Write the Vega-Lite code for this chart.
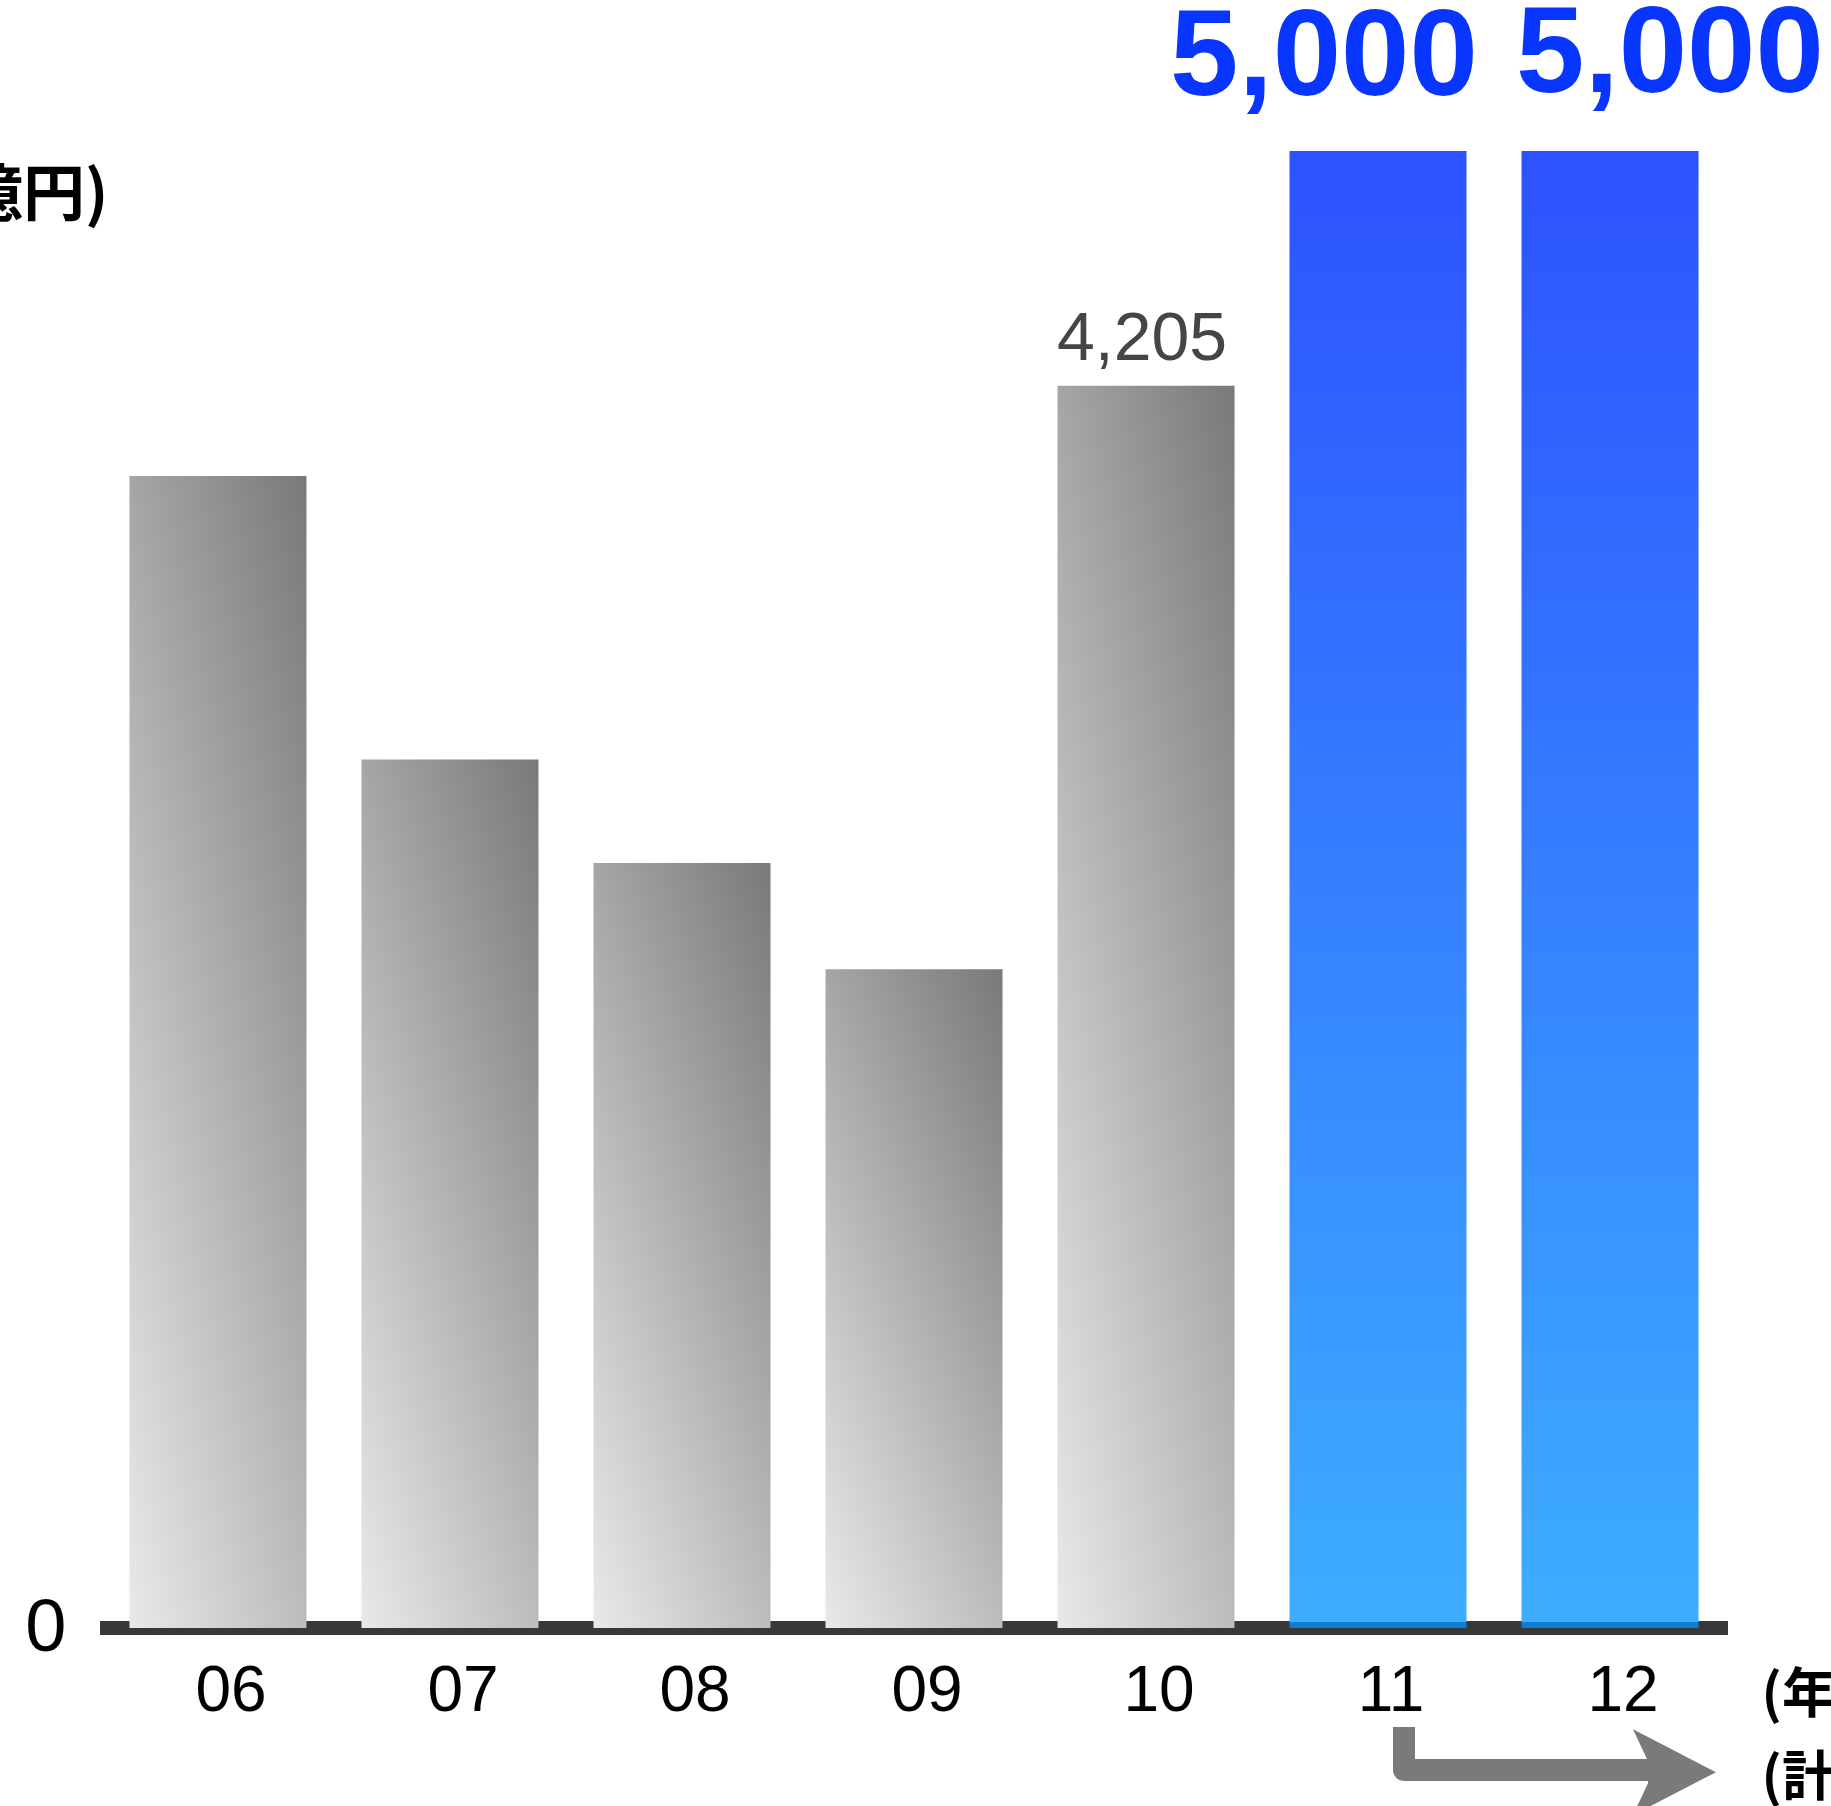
{
  "$schema": "https://vega.github.io/schema/vega-lite/v6.json",
  "width": 1628,
  "height": 1477,
  "autosize": {"type": "none"},
  "padding": {"left": 100, "top": 151, "right": 103, "bottom": 178},
  "background": "white",
  "config": {"view": {"stroke": null}, "axis": {"grid": false}},
  "datasets": {
    "sales": [
      {"year": "06", "value": 3900, "type": "実績"},
      {"year": "07", "value": 2940, "type": "実績"},
      {"year": "08", "value": 2590, "type": "実績"},
      {"year": "09", "value": 2230, "type": "実績"},
      {"year": "10", "value": 4205, "type": "実績"},
      {"year": "11", "value": 5000, "type": "計画"},
      {"year": "12", "value": 5000, "type": "計画"}
    ],
    "arrow": [
      {"step": 1, "k": 11.112, "v": -335},
      {"step": 2, "k": 11.112, "v": -481},
      {"step": 3, "k": 12.172, "v": -481}
    ],
    "head": [
      {"k": 12.278, "v": -488}
    ]
  },
  "encoding": {
    "y": {
      "type": "quantitative",
      "scale": {"domain": [0, 5000], "nice": false, "zero": false},
      "axis": {
        "values": [0],
        "domain": false,
        "ticks": false,
        "tickSize": 0,
        "grid": false,
        "labelFont": "Liberation Sans",
        "labelFontSize": 74,
        "labelColor": "#000000",
        "labelPadding": 34,
        "title": "(億円)",
        "titleAngle": 0,
        "titleAlign": "right",
        "titleBaseline": "middle",
        "titleX": 8,
        "titleY": 45,
        "titleFont": "Noto Sans CJK JP",
        "titleFontSize": 62,
        "titleFontWeight": "bold",
        "titleColor": "#000000"
      }
    }
  },
  "layer": [
    {
      "data": {"name": "sales"},
      "encoding": {
        "x": {
          "field": "year",
          "type": "ordinal",
          "sort": ["06", "07", "08", "09", "10", "11", "12"],
          "scale": {"domain": ["06", "07", "08", "09", "10", "11", "12"], "paddingInner": 0.237, "paddingOuter": 0.127},
          "axis": {
            "domain": false,
            "ticks": false,
            "tickSize": 0,
            "grid": false,
            "labelAngle": 0,
            "labelFont": "Liberation Sans",
            "labelFontSize": 64,
            "labelColor": "#000000",
            "labelBaseline": "alphabetic",
            "labelPadding": 82,
            "labelOffset": 13,
            "title": ["(年)", "(計画)"],
            "titleFont": "Noto Sans CJK JP",
            "titleFontSize": 54,
            "titleFontWeight": "bold",
            "titleColor": "#000000",
            "titleAlign": "left",
            "titleAnchor": "start",
            "titleBaseline": "alphabetic",
            "titleLineHeight": 83,
            "titleX": 1661,
            "titleY": 84,
            "titleAngle": 0
          }
        }
      },
      "layer": [
        {
          "mark": {"type": "rule", "color": "#383838", "strokeWidth": 14},
          "encoding": {
            "x": null,
            "y": {"datum": 0, "type": "quantitative"}
          }
        },
        {
          "transform": [{"filter": "datum.type === '実績'"}],
          "mark": {
            "type": "bar",
            "color": {
              "gradient": "linear",
              "x1": 0, "y1": 1, "x2": 0.774, "y2": -0.152,
              "stops": [
                {"offset": 0, "color": "#e9e9e9"},
                {"offset": 1, "color": "#797979"}
              ]
            }
          },
          "encoding": {
            "y": {"field": "value", "type": "quantitative"}
          }
        },
        {
          "transform": [{"filter": "datum.type === '計画'"}],
          "mark": {
            "type": "bar",
            "color": {
              "gradient": "linear",
              "x1": 0, "y1": 0, "x2": 0, "y2": 1,
              "stops": [
                {"offset": 0, "color": "#2d52ff"},
                {"offset": 0.9959, "color": "#3dadff"},
                {"offset": 0.9959, "color": "#0d7ed0"},
                {"offset": 1, "color": "#0d7ed0"}
              ]
            }
          },
          "encoding": {
            "y": {"field": "value", "type": "quantitative"}
          }
        },
        {
          "transform": [{"filter": "datum.year === '10'"}],
          "mark": {"type": "text", "font": "Liberation Sans", "fontSize": 68, "color": "#454545", "baseline": "alphabetic", "align": "center", "dy": -26, "dx": -4},
          "encoding": {
            "y": {"field": "value", "type": "quantitative"},
            "text": {"field": "value", "type": "quantitative", "format": ","}
          }
        },
        {
          "transform": [{"filter": "datum.year === '11'"}],
          "mark": {"type": "text", "font": "Liberation Sans", "fontWeight": "bold", "fontSize": 123, "color": "#0836ff", "baseline": "alphabetic", "align": "center", "dy": -56, "dx": -54},
          "encoding": {
            "y": {"field": "value", "type": "quantitative"},
            "text": {"field": "value", "type": "quantitative", "format": ","}
          }
        },
        {
          "transform": [{"filter": "datum.year === '12'"}],
          "mark": {"type": "text", "font": "Liberation Sans", "fontWeight": "bold", "fontSize": 123, "color": "#0836ff", "baseline": "alphabetic", "align": "center", "dy": -59, "dx": 60},
          "encoding": {
            "y": {"field": "value", "type": "quantitative"},
            "text": {"field": "value", "type": "quantitative", "format": ","}
          }
        }
      ]
    },
    {
      "layer": [
        {
          "data": {"name": "arrow"},
          "mark": {"type": "line", "strokeWidth": 22, "strokeJoin": "round", "strokeCap": "butt", "color": "#7a7a7a"},
          "encoding": {
            "x": {"field": "k", "type": "quantitative", "scale": {"domain": [5.4914, 12.5086], "nice": false, "zero": false}, "axis": null},
            "y": {"field": "v", "type": "quantitative"},
            "order": {"field": "step", "type": "quantitative"}
          }
        },
        {
          "data": {"name": "head"},
          "mark": {"type": "point", "filled": true, "opacity": 1, "strokeWidth": 0, "color": "#7a7a7a", "size": 7396, "shape": "M-0.965,-1L0.965,0L-0.965,1L-0.616,0.256L-0.616,-0.256Z"},
          "encoding": {
            "x": {"field": "k", "type": "quantitative", "scale": {"domain": [5.4914, 12.5086], "nice": false, "zero": false}, "axis": null},
            "y": {"field": "v", "type": "quantitative"}
          }
        }
      ]
    }
  ],
  "resolve": {"scale": {"x": "independent"}}
}
